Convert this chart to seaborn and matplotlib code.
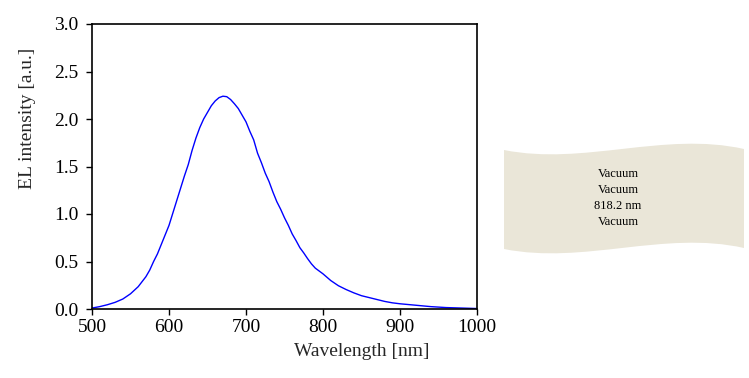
import matplotlib
matplotlib.use("Agg")
import matplotlib.pyplot as plt
import seaborn as sns
from matplotlib.path import Path
from matplotlib.patches import PathPatch

wavelength = [500, 510, 520, 530, 540, 550, 560, 570, 575, 580, 585, 590, 595, 600,
              605, 610, 615, 620, 625, 630, 635, 640, 645, 650, 655, 660, 665, 670,
              675, 680, 685, 690, 695, 700, 705, 710, 715, 720, 725, 730, 735, 740,
              745, 750, 755, 760, 765, 770, 775, 780, 785, 790, 795, 800, 810, 820,
              830, 840, 850, 860, 870, 880, 890, 900, 920, 940, 960, 980, 1000]
intensity = [0.01, 0.025, 0.045, 0.07, 0.105, 0.16, 0.235, 0.34, 0.41, 0.50, 0.58,
             0.68, 0.78, 0.88, 1.01, 1.14, 1.27, 1.40, 1.52, 1.67, 1.80, 1.91, 2.00,
             2.07, 2.14, 2.19, 2.225, 2.24, 2.235, 2.205, 2.16, 2.11, 2.04, 1.97,
             1.87, 1.78, 1.64, 1.54, 1.43, 1.34, 1.23, 1.13, 1.05, 0.96, 0.88, 0.79,
             0.72, 0.645, 0.59, 0.53, 0.475, 0.43, 0.40, 0.37, 0.30, 0.245, 0.205,
             0.17, 0.14, 0.12, 0.10, 0.08, 0.065, 0.055, 0.04, 0.025, 0.015, 0.01, 0.005]
x_ticks = [500, 600, 700, 800, 900, 1000]
y_ticks = [0.0, 0.5, 1.0, 1.5, 2.0, 2.5, 3.0]
x_label = "Wavelength [nm]"
y_label = "EL intensity [a.u.]"
legend_lines = ["Vacuum", "Vacuum", "818.2 nm", "Vacuum"]

sns.set_style("white")
plt.rcParams['font.family'] = ['Liberation Serif', 'DejaVu Serif']

W, H = 749, 378
fig = plt.figure(figsize=(W / 100, H / 100), dpi=100)
ax = fig.add_axes([92 / W, 1 - 309 / H, (477 - 92) / W, (309 - 24) / H])

sns.lineplot(x=wavelength, y=intensity, ax=ax, color="#0000ff", linewidth=1.0)

ax.set_xlim(500, 1000)
ax.set_ylim(0, 3.0)
ax.set_xticks(x_ticks)
ax.set_xticklabels([str(v) for v in x_ticks])
ax.set_yticks(y_ticks)
ax.set_yticklabels([f"{v:.1f}" for v in y_ticks])
ax.tick_params(axis="both", which="both", direction="out", length=4.5, width=1,
               labelsize=14, color="black", labelcolor="black",
               bottom=True, left=True, top=False, right=False)
ax.tick_params(axis="x", pad=3)
ax.tick_params(axis="y", pad=5)
for s in ax.spines.values():
    s.set_visible(True)
    s.set_color("black")
    s.set_linewidth(1.2)
ax.grid(False)

fig.text(362 / W, 1 - 352 / H, x_label, ha="center", va="center", fontsize=14)
fig.text(27 / W, 1 - 118 / H, y_label, ha="center", va="center", rotation=90, fontsize=14)

# wavy legend shape
def fp(x, y):
    return (x / W, 1 - y / H)

verts = [fp(504, 150), fp(584, 166), fp(664, 131), fp(744, 149),
         fp(744, 248),
         fp(664, 230), fp(584, 265), fp(504, 249),
         fp(504, 150)]
codes = [Path.MOVETO, Path.CURVE4, Path.CURVE4, Path.CURVE4,
         Path.LINETO,
         Path.CURVE4, Path.CURVE4, Path.CURVE4,
         Path.CLOSEPOLY]
patch = PathPatch(Path(verts, codes), transform=fig.transFigure,
                  facecolor="#eae6d8", edgecolor="none")
fig.add_artist(patch)

for i, t in enumerate(legend_lines):
    fig.text(618 / W, 1 - (173.5 + 16.3 * i) / H, t, ha="center", va="center",
             fontsize=9, color="black")

fig.savefig("out.png", dpi=100, facecolor="white")
